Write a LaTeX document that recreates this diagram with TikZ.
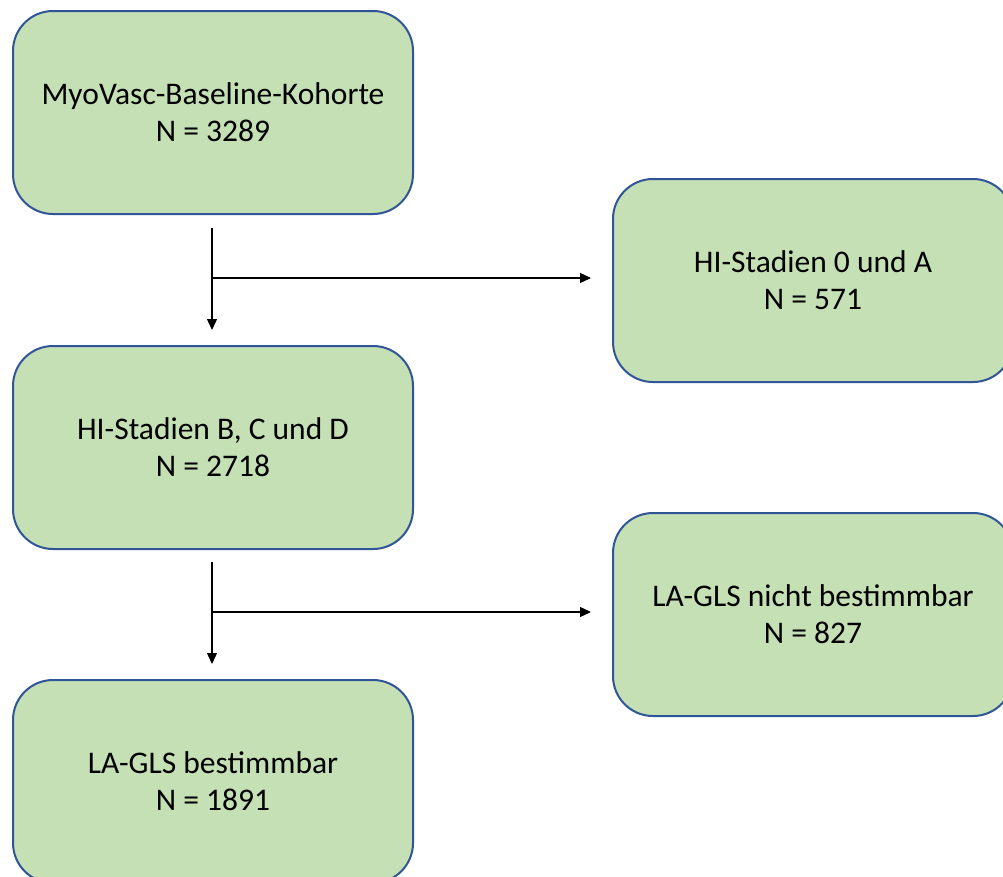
\documentclass[tikz,border=0pt]{standalone}
\usepackage{fontspec}
\setmainfont{Carlito}
\usetikzlibrary{arrows.meta}
\definecolor{boxfill}{HTML}{C5E0B4}
\definecolor{boxline}{HTML}{2F5597}
\tikzset{
  flowbox/.style={draw=boxline, line width=2pt, fill=boxfill, rounded corners=40pt,
    minimum width=400pt, minimum height=203pt, inner sep=0pt, align=center,
    font=\fontsize{31.5}{37}\selectfont, anchor=north west},
  conn/.style={line width=1.3pt, -{Triangle[length=11pt,width=10pt]}}
}
\begin{document}
\begin{tikzpicture}[x=1pt,y=-1pt]
\path[use as bounding box] (0,0) rectangle (1003,876);
\clip (0,0) rectangle (1003,876);
\node[flowbox] (b1) at (12,10) {MyoVasc-Baseline-Kohorte\\N = 3289};
\node[flowbox] (b2) at (12,345) {HI-Stadien B, C und D\\N = 2718};
\node[flowbox] (b3) at (12,679) {LA-GLS bestimmbar\\N = 1891};
\node[flowbox] (r1) at (612,178) {HI-Stadien 0 und A\\N = 571};
\node[flowbox] (r2) at (612,512) {LA-GLS nicht bestimmbar\\N = 827};
\coordinate (s1) at (212,228);
\coordinate (e1) at (212,330);
\coordinate (j1) at (212,278);
\coordinate (t1) at (591,278);
\coordinate (s2) at (212,562);
\coordinate (e2) at (212,664);
\coordinate (j2) at (212,612);
\coordinate (t2) at (591,612);
\draw[conn] (s1) -- (e1);
\draw[conn] (j1) -- (t1);
\draw[conn] (s2) -- (e2);
\draw[conn] (j2) -- (t2);
\end{tikzpicture}
\end{document}
